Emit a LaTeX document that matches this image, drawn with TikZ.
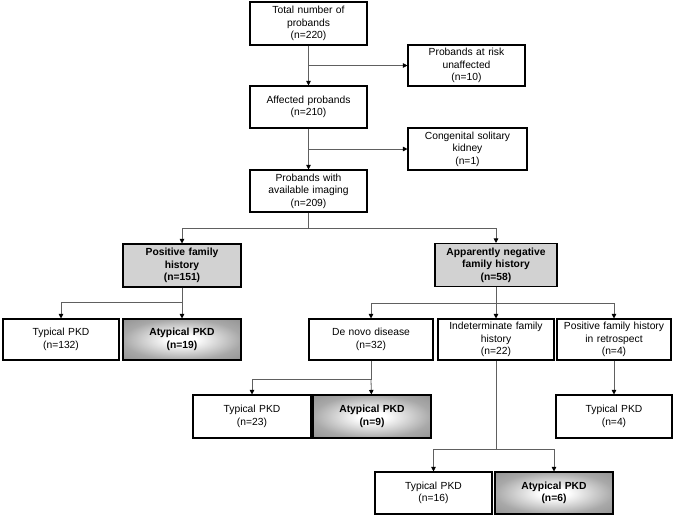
\documentclass[tikz,border=0pt]{standalone}
\usepackage{fontspec}
\setmainfont{Liberation Sans}
\usetikzlibrary{arrows.meta}
\pgfdeclareradialshading{atypshade}{\pgfpoint{0bp}{0bp}}{color(0bp)=(white); color(6bp)=(white); color(25bp)=(gray!68); color(36bp)=(gray!85); color(50bp)=(gray!85)}
\tikzset{
  box/.style={draw, line width=1.1pt, text width=#1, inner xsep=0pt, inner ysep=2pt, minimum height=42pt, align=center, font=\fontsize{10.3}{12.5}\selectfont},
  box/.default=117pt,
  famhist/.style={box=#1, fill=gray!35, font=\fontsize{10.3}{12.5}\selectfont\bfseries},
  famhist/.default=118pt,
  atyp/.style={box=#1, shading=atypshade, font=\fontsize{10.3}{12.5}\selectfont\bfseries},
  atyp/.default=118pt,
  link/.style={draw=gray!75!black, line width=0.8pt},
  arr/.style={link, -{Triangle[length=4.5pt, width=4.5pt, black]}}
}

\begin{document}
\begin{tikzpicture}[x=1pt, y=-1pt]
\useasboundingbox (0,0) rectangle (677,517);
% top chain
\node[box, minimum height=43pt] (total) at (308.5,23.5) {Total number of\\probands\\(n=220)};
\node[box, minimum height=41pt] (risk) at (466.5,65.5) {Probands at risk\\unaffected\\(n=10)};
\node[box] (affected) at (308.5,107) {Affected probands\\(n=210)};
\node[box=119pt] (congenital) at (467.5,149) {Congenital solitary\\kidney\\(n=1)};
\node[box] (imaging) at (308.5,191) {Probands with\\available imaging\\(n=209)};
% family history
\node[famhist, minimum height=43pt] (posfam) at (182,265.5) {Positive family\\history\\(n=151)};
\node[famhist=122pt, minimum height=43pt] (negfam) at (496,265) {Apparently negative\\family history\\(n=58)};
\node[box=116pt, minimum height=41pt] (typ132) at (61,339.5) {Typical PKD\\(n=132)};
\node[atyp, shade, minimum height=41pt] (aty19) at (182,339.5) {Atypical PKD\\(n=19)};
\node[box=124pt, minimum height=41pt] (denovo) at (371,339.5) {De novo disease\\(n=32)};
\node[box=116pt, minimum height=41pt] (indet) at (496,339.5) {Indeterminate family\\history\\(n=22)};
\node[box=114pt, minimum height=41pt] (retro) at (614,339.5) {Positive family history\\in retrospect\\(n=4)};
% outcomes
\node[box=118pt, minimum height=43pt] (typ23) at (252,416.5) {Typical PKD\\(n=23)};
\node[atyp, shade, minimum height=43pt] (aty9) at (372,416.5) {Atypical PKD\\(n=9)};
\node[box=116pt, minimum height=43pt] (typ4) at (614,416.5) {Typical PKD\\(n=4)};
\node[box] (typ16) at (433.5,493) {Typical PKD\\(n=16)};
\node[atyp, shade] (aty6) at (554,493) {Atypical PKD\\(n=6)};
% connectors
\draw[arr] (total) -- (affected);
\draw[arr] (total.south |- risk.west) -- (risk.west);
\draw[arr] (affected) -- (imaging);
\draw[arr] (affected.south |- congenital.west) -- (congenital.west);
\draw[link] (imaging.south) -- ++(0,16) coordinate (split1);
\draw[arr] (split1) -| (posfam);
\draw[arr] (split1) -| (negfam);
\draw[link] (posfam.south) -- ++(0,15) coordinate (split2);
\draw[arr] (split2) -| (typ132);
\draw[arr] (split2) -- (aty19);
\draw[link] (negfam.south) -- ++(0,16) coordinate (split3);
\draw[arr] (split3) -| (denovo);
\draw[arr] (split3) -- (indet);
\draw[arr] (split3) -| (retro);
\draw[link] (denovo.south) -- ++(0,19) coordinate (split4);
\draw[arr] (split4) -| (typ23);
\draw[arr] (split4) -- (aty9);
\draw[link] (indet.south) -- ++(0,89) coordinate (split5);
\draw[arr] (split5) -| (typ16);
\draw[arr] (split5) -| (aty6);
\draw[arr] (retro) -- (typ4);
\end{tikzpicture}
\end{document}
